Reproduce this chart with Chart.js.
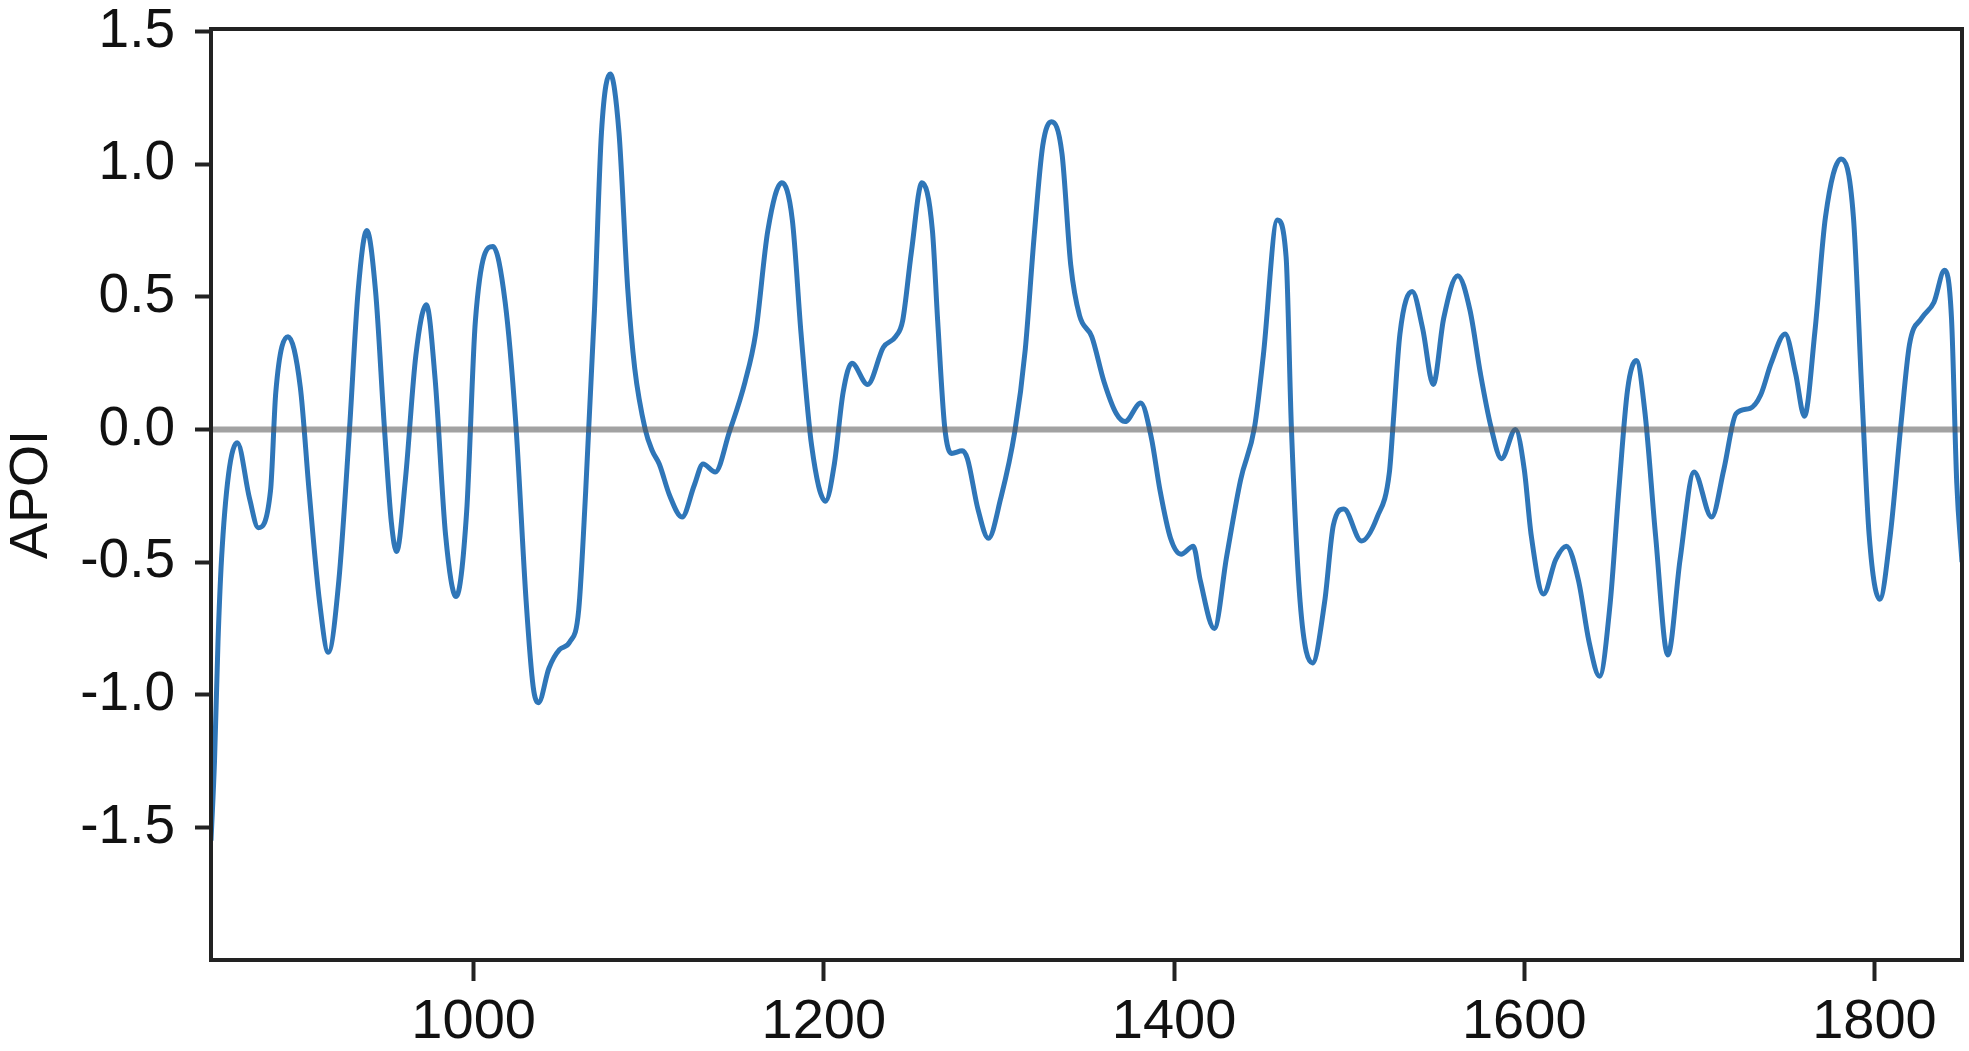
<!DOCTYPE html>
<html>
<head>
<meta charset="utf-8">
<script src="https://cdn.jsdelivr.net/npm/chart.js@4/dist/chart.umd.min.js"></script>
<style>
    html, body { margin: 0; padding: 0; background: #fff; }
    canvas { display: block; }
</style>
</head>
<body>
<canvas id="myChart" width="1969" height="1051"></canvas>
<script>
var years = [
    850, 852, 854, 856, 860, 865, 872, 877, 884, 887, 894, 901, 906, 912, 917, 923, 929,
    934, 939, 944, 949, 953, 956, 961, 967, 973, 978, 984, 990, 996, 1001, 1011, 1018,
    1024, 1030, 1034, 1037, 1043, 1049, 1055, 1060, 1064, 1069, 1073, 1078, 1083, 1088,
    1092, 1098, 1102, 1106, 1112, 1119, 1126, 1131, 1138, 1146, 1155, 1161, 1168, 1176,
    1182, 1187, 1193, 1201, 1206, 1211, 1216, 1225, 1234, 1241, 1245, 1250, 1256, 1262,
    1265, 1269, 1273, 1279, 1282, 1288, 1294, 1301, 1309, 1315, 1320, 1325, 1330, 1336,
    1341, 1346, 1353, 1360, 1367, 1372, 1381, 1387, 1392, 1398, 1404, 1411, 1415, 1423,
    1430, 1438, 1446, 1451, 1459, 1464, 1467, 1472, 1479, 1486, 1491, 1497, 1507, 1516,
    1523, 1525, 1529, 1536, 1542, 1548, 1554, 1562, 1569, 1575, 1581, 1587, 1595, 1600,
    1604, 1611, 1618, 1624, 1631, 1637, 1643, 1649, 1654, 1659, 1664, 1669, 1675, 1682,
    1689, 1697, 1707, 1714, 1721, 1729, 1735, 1741, 1749, 1755, 1760, 1766, 1772, 1781,
    1788, 1793, 1797, 1803, 1809, 1815, 1820, 1827, 1834, 1840, 1844, 1847, 1850
];
var apoi = [
    -1.55, -1.25, -0.80, -0.49, -0.17, -0.05, -0.26, -0.37, -0.23, 0.14, 0.35, 0.16, -0.23, -0.65, -0.84, -0.57, -0.01,
    0.52, 0.75, 0.52, 0.01, -0.35, -0.46, -0.19, 0.28, 0.47, 0.19, -0.40, -0.63, -0.31, 0.41, 0.69, 0.48,
    0.03, -0.65, -0.97, -1.03, -0.90, -0.83, -0.80, -0.68, -0.23, 0.45, 1.12, 1.34, 1.12, 0.53,
    0.23, 0.00, -0.08, -0.13, -0.25, -0.33, -0.21, -0.13, -0.16, -0.01, 0.18, 0.36, 0.75, 0.93,
    0.79, 0.36, -0.06, -0.27, -0.13, 0.14, 0.25, 0.17, 0.31, 0.35, 0.41, 0.67, 0.93, 0.75,
    0.41, 0.01, -0.09, -0.08, -0.11, -0.30, -0.41, -0.26, -0.01, 0.30, 0.72, 1.07, 1.16, 1.04,
    0.62, 0.43, 0.35, 0.18, 0.06, 0.03, 0.10, -0.03, -0.23, -0.41, -0.47, -0.44, -0.57, -0.75,
    -0.48, -0.19, 0.01, 0.28, 0.79, 0.65, 0.01, -0.65, -0.88, -0.65, -0.36, -0.30, -0.42, -0.33,
    -0.16, 0.01, 0.36, 0.52, 0.38, 0.17, 0.42, 0.58, 0.45, 0.21, 0.01, -0.11, 0.00, -0.15,
    -0.40, -0.62, -0.49, -0.44, -0.57, -0.80, -0.93, -0.66, -0.23, 0.15, 0.26, 0.06, -0.40, -0.85,
    -0.49, -0.16, -0.33, -0.15, 0.06, 0.08, 0.13, 0.25, 0.36, 0.21, 0.05, 0.37, 0.80, 1.02,
    0.80, 0.11, -0.40, -0.64, -0.40, 0.01, 0.32, 0.42, 0.48, 0.60, 0.42, -0.20, -0.50
];
var zeroYears = [850, 1850];
var zeroValues = [0, 0];
var xTicks = [1000, 1200, 1400, 1600, 1800];
var yTicks = [-1.5, -1.0, -0.5, 0.0, 0.5, 1.0, 1.5];

var FONT = "'Liberation Sans', Arial, sans-serif";
var AXIS_COLOR = '#222';

function toPoints(xs, ys) {
    var pts = [];
    for (var i = 0; i < xs.length; i++) {
        pts.push({x: xs[i], y: ys[i]});
    }
    return pts;
}

// black box round the plot area
var framePlugin = {
    id: 'frame',
    afterDraw: function (chart) {
        var a = chart.chartArea;
        var ctx = chart.ctx;
        ctx.save();
        ctx.strokeStyle = AXIS_COLOR;
        ctx.lineWidth = 4;
        ctx.strokeRect(a.left, a.top, a.right - a.left, a.bottom - a.top);
        ctx.restore();
    }
};

var ctx = document.getElementById("myChart").getContext('2d');
var myChart = new Chart(ctx, {
    type: 'line',
    data: {
        datasets: [
            {
                label: 'zero',
                data: toPoints(zeroYears, zeroValues),
                borderColor: 'rgba(85,85,85,0.55)',
                borderWidth: 6,
                pointRadius: 0,
                fill: false,
                order: 0
            },
            {
                label: 'APOI',
                data: toPoints(years, apoi),
                borderColor: '#2f76b8',
                borderWidth: 5,
                pointRadius: 0,
                fill: false,
                cubicInterpolationMode: 'monotone',
                order: 1
            }
        ]
    },
    options: {
        responsive: false,
        devicePixelRatio: 1,
        animation: false,
        layout: {
            padding: {top: 29, right: 7, left: 0, bottom: 0}
        },
        plugins: {
            legend: {display: false},
            tooltip: {enabled: false}
        },
        scales: {
            x: {
                type: 'linear',
                min: 850,
                max: 1850,
                afterBuildTicks: function (scale) {
                    scale.ticks = xTicks.map(function (v) { return {value: v}; });
                },
                afterFit: function (scale) {
                    scale.height = 91;
                    scale.paddingLeft = 0;
                    scale.paddingRight = 0;
                },
                grid: {
                    drawOnChartArea: false,
                    drawTicks: true,
                    tickLength: 21,
                    tickWidth: 4,
                    tickColor: AXIS_COLOR
                },
                border: {display: true, color: AXIS_COLOR, width: 4},
                ticks: {
                    color: '#111',
                    padding: 8,
                    maxRotation: 0,
                    font: {family: FONT, size: 56},
                    callback: function (v) { return String(v); }
                }
            },
            y: {
                type: 'linear',
                min: -2.0,
                max: 1.51,
                afterBuildTicks: function (scale) {
                    scale.ticks = yTicks.map(function (v) { return {value: v}; });
                },
                afterFit: function (scale) {
                    scale.width = 211;
                    scale.paddingTop = 0;
                    scale.paddingBottom = 0;
                },
                grid: {
                    drawOnChartArea: false,
                    drawTicks: true,
                    tickLength: 16,
                    tickWidth: 4,
                    tickColor: AXIS_COLOR
                },
                border: {display: true, color: AXIS_COLOR, width: 4},
                ticks: {
                    color: '#111',
                    padding: 20,
                    font: {family: FONT, size: 55},
                    callback: function (v) { return v.toFixed(1); }
                },
                title: {
                    display: true,
                    text: 'APOI',
                    color: '#111',
                    padding: 0,
                    font: {family: FONT, size: 54}
                }
            }
        }
    },
    plugins: [framePlugin]
});
</script>
</body>
</html>
